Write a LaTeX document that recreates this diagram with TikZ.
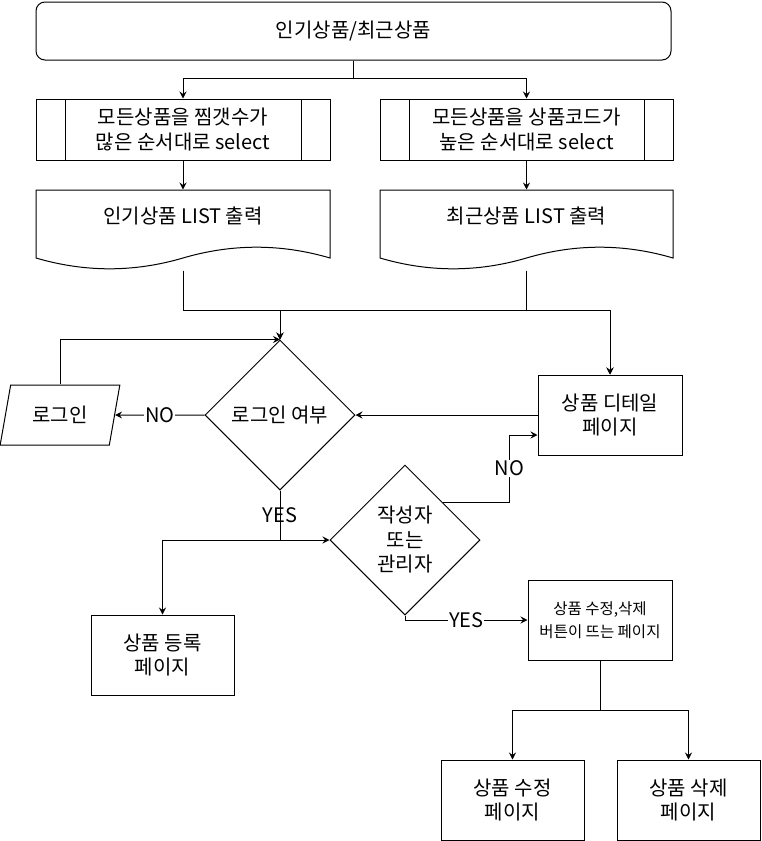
\documentclass[tikz,border=0pt]{standalone}
\usepackage{fontspec}
\setmainfont{Noto Sans CJK KR}
\usetikzlibrary{arrows.meta,shapes.geometric,positioning}

\begin{document}
\begin{tikzpicture}[
        x=1pt, y=-1pt,
        every path/.style={line width=1pt},
        >={Stealth[length=7pt,width=7pt,inset=2.5pt]},
        every node/.style={align=center, inner sep=0pt, font=\fontsize{20pt}{24.5pt}\selectfont},
        terminal/.style={draw, rounded corners=9pt, minimum width=635pt, minimum height=58pt},
        process/.style={draw, minimum width=143pt, minimum height=80pt},
        subproc/.style={draw, minimum width=294pt, minimum height=61pt,
            path picture={
                \draw ([xshift=29pt]path picture bounding box.north west) -- ([xshift=29pt]path picture bounding box.south west)
                      ([xshift=-29pt]path picture bounding box.north east) -- ([xshift=-29pt]path picture bounding box.south east);
            }},
        docbox/.style={minimum width=294pt, minimum height=80pt, text depth=30pt},
        decision/.style={draw, diamond, minimum width=150pt, minimum height=150pt},
        inout/.style={draw, trapezium, trapezium left angle=71.6, trapezium right angle=108.4,
            trapezium stretches=true, minimum width=120pt, minimum height=60pt},
        lbl/.style={fill=white, inner sep=1pt}
    ]

    \useasboundingbox (0,0) rectangle (761,841);

    % Nodes
    \node (title) [terminal] at (353.5,31) {인기상품/최근상품};

    \node (selPop) [subproc] at (183,129.5) {모든상품을 찜갯수가 \\ 많은 순서대로 select};
    \node (selNew) [subproc, minimum width=293pt] at (526.5,129.5) {모든상품을 상품코드가 \\ 높은 순서대로 select};

    \node (popList) [docbox] at (183,230) {인기상품 LIST 출력};
    \node (newList) [docbox, minimum width=293pt] at (526.5,230) {최근상품 LIST 출력};

    \node (login) [decision] at (280,415) {로그인 여부};
    \node (loginIn) [inout] at (60,415) {로그인};
    \node (detail) [process, minimum width=144pt] at (610,415) {상품 디테일 \\ 페이지};

    \node (owner) [decision] at (405,540) {작성자 \\ 또는 \\ 관리자};
    \node (regist) [process] at (162.5,655) {상품 등록 \\ 페이지};
    \node (editBtn) [process, minimum width=144pt, font=\fontsize{15.5pt}{23pt}\selectfont] at (600,620) {상품 수정,삭제 \\ 버튼이 뜨는 페이지};

    \node (edit) [process] at (512.5,800) {상품 수정 \\ 페이지};
    \node (del) [process] at (688.5,800) {상품 삭제 \\ 페이지};

    % document outlines
    \draw (36,190) -- (330,190) -- (330,258) .. controls (281,243.6) and (232,243.6) .. (183,258)
        .. controls (134,272.4) and (85,272.4) .. (36,258) -- cycle;
    \draw (380,190) -- (673,190) -- (673,258) .. controls (624.2,243.6) and (575.3,243.6) .. (526.5,258)
        .. controls (477.7,272.4) and (428.8,272.4) .. (380,258) -- cycle;

    % Edges
    \draw[->] (title.south) -- ++(0,18) -| (selPop.north);
    \draw[->] (title.south) -- ++(0,18) -| (selNew.north);
    \draw[->] (selPop.south) -- (popList.north);
    \draw[->] (selNew.south) -- (newList.north);
    \draw[->] (popList.south) -- ++(0,40) -| (login.north);
    \draw[->] (popList.south) -- ++(0,40) -| (detail.north);
    \draw[->] (newList.south) -- ++(0,40) -| (login.north);
    \draw[->] (newList.south) -- ++(0,40) -| (detail.north);

    \draw[->] (detail.west) -- (login.east);
    \draw[->] (login.west) -- node[lbl] {NO} (loginIn.east);
    \draw[->] (loginIn.north) |- (login.north);
    \draw[->] (login.south) -- node[lbl] {YES} ++(0,50) -| (regist.north);
    \draw[->] (login.south) |- (owner.west);
    \draw[->] (owner.north east) -| node[lbl, pos=0.75] {NO} ([xshift=-28pt, yshift=-20pt]detail.west)
        -- ([yshift=-20pt]detail.west);
    \draw[->] (owner.south) |- node[lbl, pos=0.75] {YES} (editBtn.west);
    \draw[->] (editBtn.south) -- ++(0,50) -| (edit.north);
    \draw[->] (editBtn.south) -- ++(0,50) -| (del.north);

\end{tikzpicture}
\end{document}
